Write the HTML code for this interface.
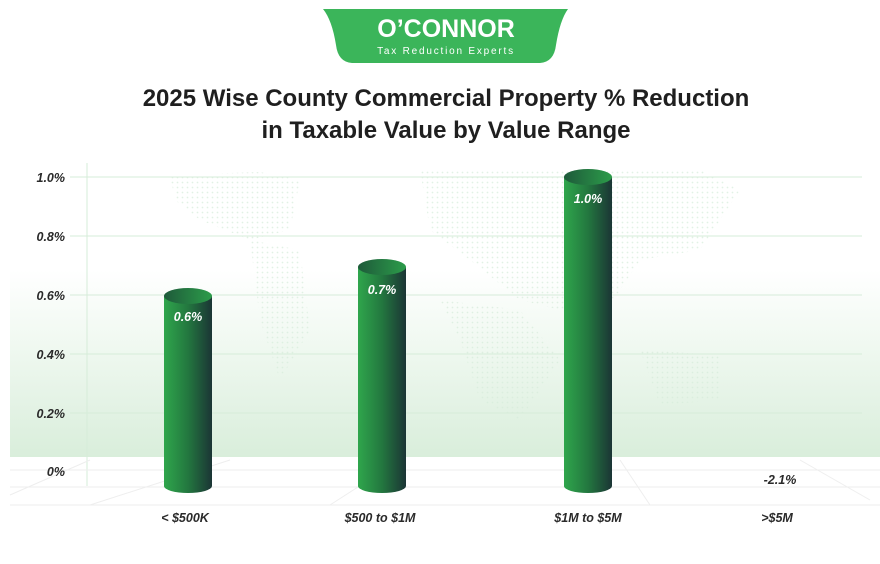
<!DOCTYPE html>
<html><head><meta charset="utf-8"><style>
body{margin:0;width:880px;height:559px;overflow:hidden;background:#fff;font-family:"Liberation Sans",sans-serif}
</style></head><body>
<svg width="880" height="559" viewBox="0 0 880 559" xmlns="http://www.w3.org/2000/svg">
<defs>
<linearGradient id="band" x1="0" y1="0" x2="0" y2="1">
<stop offset="0" stop-color="#fff"/><stop offset="1" stop-color="#d9eedb"/></linearGradient>
<linearGradient id="cyl" x1="0" y1="0" x2="1" y2="0">
<stop offset="0" stop-color="#2fa64c"/><stop offset="0.5" stop-color="#23773f"/><stop offset="1" stop-color="#1b3535"/></linearGradient>
<linearGradient id="top" x1="0" y1="0" x2="1" y2="0">
<stop offset="0" stop-color="#1e5a3a"/><stop offset="1" stop-color="#2c9c4a"/></linearGradient>
<pattern id="dots" width="5" height="5" patternUnits="userSpaceOnUse"><circle cx="2.5" cy="2.5" r="0.9" fill="#d6ecda"/></pattern>
</defs>
<rect x="10" y="270" width="870" height="187" fill="url(#band)"/>
<g fill="url(#dots)" opacity="0.7">
<path d="M170 175 L260 172 L300 180 L290 230 L250 240 L200 220 L175 200Z"/>
<path d="M250 240 L300 250 L310 330 L280 380 L260 320Z"/>
<path d="M420 170 L700 170 L740 190 L700 250 L640 260 L600 320 L520 300 L470 260 L430 230Z"/>
<path d="M440 300 L520 310 L560 360 L520 420 L480 400 L460 340Z"/>
<path d="M640 350 L720 355 L720 400 L660 405Z"/>
</g>
<g stroke="#d6ecd9" stroke-width="1">
<line x1="70" y1="177" x2="862" y2="177"/><line x1="70" y1="236" x2="862" y2="236"/>
<line x1="70" y1="295" x2="862" y2="295"/><line x1="70" y1="354" x2="862" y2="354"/>
<line x1="70" y1="413" x2="862" y2="413"/>
<line x1="87" y1="163" x2="87" y2="486"/>
</g>
<g stroke="#eee" stroke-width="1" fill="none">
<line x1="10" y1="470" x2="880" y2="470"/><line x1="10" y1="487" x2="880" y2="487"/><line x1="10" y1="505" x2="880" y2="505"/>
<line x1="90" y1="460" x2="10" y2="495"/><line x1="230" y1="460" x2="90" y2="505"/><line x1="400" y1="460" x2="330" y2="505"/>
<line x1="620" y1="460" x2="650" y2="505"/><line x1="800" y1="460" x2="870" y2="500"/>
</g>
<g font-size="12.5" font-weight="bold" font-style="italic" fill="#2a2a2a" text-anchor="end">
<text x="65" y="182">1.0%</text><text x="65" y="241">0.8%</text><text x="65" y="300">0.6%</text>
<text x="65" y="359">0.4%</text><text x="65" y="418">0.2%</text><text x="65" y="476">0%</text>
</g>
<g>
<rect x="164" y="296" width="48" height="190" fill="url(#cyl)"/><ellipse cx="188" cy="486" rx="24" ry="7" fill="url(#cyl)"/><ellipse cx="188" cy="296" rx="24" ry="8" fill="url(#top)"/>
<rect x="358" y="267" width="48" height="219" fill="url(#cyl)"/><ellipse cx="382" cy="486" rx="24" ry="7" fill="url(#cyl)"/><ellipse cx="382" cy="267" rx="24" ry="8" fill="url(#top)"/>
<rect x="564" y="177" width="48" height="309" fill="url(#cyl)"/><ellipse cx="588" cy="486" rx="24" ry="7" fill="url(#cyl)"/><ellipse cx="588" cy="177" rx="24" ry="8" fill="url(#top)"/>
</g>
<g font-size="12.5" font-weight="bold" font-style="italic" fill="#fff" text-anchor="middle">
<text x="188" y="321">0.6%</text><text x="382" y="294">0.7%</text><text x="588" y="203">1.0%</text>
</g>
<text x="780" y="484" font-size="12.5" font-weight="bold" font-style="italic" fill="#2a2a2a" text-anchor="middle">-2.1%</text>
<g font-size="12.5" font-weight="bold" font-style="italic" fill="#2a2a2a" text-anchor="middle">
<text x="185" y="522">&lt; $500K</text><text x="380" y="522">$500 to $1M</text><text x="588" y="522">$1M to $5M</text><text x="777" y="522">&gt;$5M</text>
</g>
<path d="M323 9 L568 9 Q560 20 556 45 Q554 62 540 63 L352 63 Q338 62 336 45 Q332 20 323 9Z" fill="#3bb55a"/>
<text x="446" y="37" font-size="25" font-weight="bold" fill="#fff" text-anchor="middle">O’CONNOR</text>
<text x="446" y="54" font-size="10" fill="#fff" text-anchor="middle" letter-spacing="1.8">Tax Reduction Experts</text>
<g font-size="24" font-weight="bold" fill="#1f1f1f" text-anchor="middle">
<text x="446" y="106">2025 Wise County Commercial Property % Reduction</text>
<text x="446" y="138">in Taxable Value by Value Range</text>
</g>
</svg>
</body></html>
